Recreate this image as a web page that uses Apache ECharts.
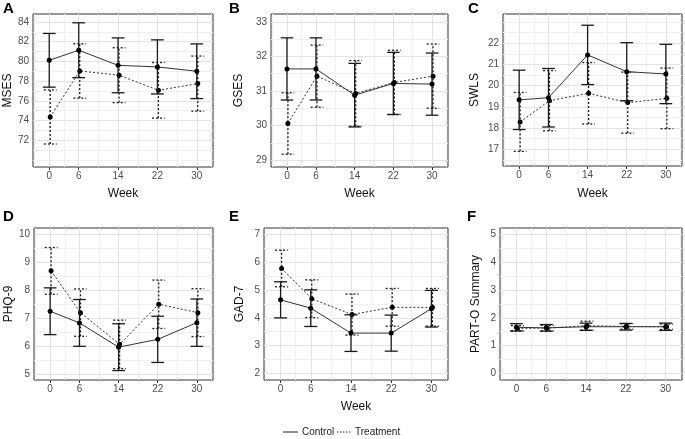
<!DOCTYPE html>
<html><head><meta charset="utf-8">
<script src="https://cdn.jsdelivr.net/npm/echarts@6/dist/echarts.min.js"></script>
<style>html,body{margin:0;padding:0;background:#fff}#c{width:685px;height:439px}</style>
</head><body><div id="c"></div>
<script>
// ---- data ----
const weeks = [0, 6, 14, 22, 30];
const weekTicks = [0, 6, 14, 22, 30];

const msesCtrlMean = [80.11, 81.13, 79.60, 79.44, 79.00];
const msesCtrlErr  = [2.72, 2.78, 2.78, 2.74, 2.77];
const msesTrtMean  = [74.37, 79.03, 78.60, 77.07, 77.75];
const msesTrtErr   = [2.74, 2.75, 2.78, 2.82, 2.79];
const msesTicks    = [72, 74, 76, 78, 80, 82, 84];

const gsesCtrlMean = [31.64, 31.64, 30.88, 31.22, 31.20];
const gsesCtrlErr  = [0.90, 0.90, 0.92, 0.90, 0.90];
const gsesTrtMean  = [30.06, 31.43, 30.93, 31.25, 31.43];
const gsesTrtErr   = [0.89, 0.90, 0.95, 0.93, 0.93];
const gsesTicks    = [29, 30, 31, 32, 33];

const swlsCtrlMean = [19.33, 19.43, 21.45, 20.66, 20.55];
const swlsCtrlErr  = [1.40, 1.38, 1.40, 1.37, 1.40];
const swlsTrtMean  = [18.29, 19.29, 19.64, 19.20, 19.40];
const swlsTrtErr   = [1.39, 1.42, 1.45, 1.44, 1.43];
const swlsTicks    = [17, 18, 19, 20, 21, 22];

const phqCtrlMean = [7.25, 6.83, 5.96, 6.24, 6.84];
const phqCtrlErr  = [0.84, 0.84, 0.84, 0.83, 0.85];
const phqTrtMean  = [8.70, 7.20, 6.06, 7.50, 7.20];
const phqTrtErr   = [0.84, 0.85, 0.87, 0.87, 0.86];
const phqTicks    = [5, 6, 7, 8, 9, 10];

const gadCtrlMean = [4.65, 4.35, 3.45, 3.45, 4.33];
const gadCtrlErr  = [0.65, 0.66, 0.66, 0.65, 0.66];
const gadTrtMean  = [5.78, 4.69, 4.12, 4.38, 4.38];
const gadTrtErr   = [0.66, 0.68, 0.74, 0.68, 0.68];
const gadTicks    = [2, 3, 4, 5, 6, 7];

const partCtrlMean = [1.66, 1.64, 1.68, 1.68, 1.68];
const partCtrlErr  = [0.13, 0.12, 0.13, 0.12, 0.13];
const partTrtMean  = [1.62, 1.63, 1.72, 1.69, 1.68];
const partTrtErr   = [0.10, 0.10, 0.16, 0.10, 0.10];
const partTicks    = [0, 1, 2, 3, 4, 5];

// ---- layout ----
const FONT = "'Liberation Sans', Arial, sans-serif";
const panels = [
  {letter:'A', name:'MSES', yMin:69.3, yMax:84.8, ticks:msesTicks, cm:msesCtrlMean, ce:msesCtrlErr, tm:msesTrtMean, te:msesTrtErr,
   grid:{left:33, top:14, width:180, height:153}, gap:18, lx:3, ly:1, week:true, wgap:21},
  {letter:'B', name:'GSES', yMin:28.8, yMax:33.23, ticks:gsesTicks, cm:gsesCtrlMean, ce:gsesCtrlErr, tm:gsesTrtMean, te:gsesTrtErr,
   grid:{left:271, top:14, width:177, height:153}, gap:26, lx:229, ly:1, week:true, wgap:21},
  {letter:'C', name:'SWLS', yMin:16.21, yMax:23.38, ticks:swlsTicks, cm:swlsCtrlMean, ce:swlsCtrlErr, tm:swlsTrtMean, te:swlsTrtErr,
   grid:{left:503, top:14, width:179, height:152}, gap:22, lx:468, ly:1, week:true, wgap:22},
  {letter:'D', name:'PHQ-9', yMin:4.78, yMax:10.24, ticks:phqTicks, cm:phqCtrlMean, ce:phqCtrlErr, tm:phqTrtMean, te:phqTrtErr,
   grid:{left:34, top:228, width:179, height:152}, gap:17, lx:3, ly:209, week:false, wgap:21},
  {letter:'E', name:'GAD-7', yMin:1.76, yMax:7.24, ticks:gadTicks, cm:gadCtrlMean, ce:gadCtrlErr, tm:gadTrtMean, te:gadTrtErr,
   grid:{left:264, top:228, width:184, height:152}, gap:18, lx:229, ly:209, week:true, wgap:21},
  {letter:'F', name:'PART-O Summary', yMin:-0.24, yMax:5.24, ticks:partTicks, cm:partCtrlMean, ce:partCtrlErr, tm:partTrtMean, te:partTrtErr,
   grid:{left:500, top:228, width:182, height:152}, gap:18, lx:467, ly:209, week:false, wgap:21}
];
const X_MIN = -3.3, X_MAX = 33.3, CAP = 1.3, DODGE = 0.2;

function minorLines(ticks, lo, hi) {
  const d = ticks[1] - ticks[0];
  const b = [ticks[0] - d, ...ticks, ticks[ticks.length - 1] + d];
  const out = [];
  for (let i = 0; i < b.length - 1; i++) out.push((b[i] + b[i + 1]) / 2);
  out.push(b[0], b[b.length - 1]);
  return out.filter(v => v > lo && v < hi);
}

const grids = [], xAxes = [], yAxes = [], series = [], titles = [];
panels.forEach((p, i) => {
  grids.push(Object.assign({show:true, borderColor:'#333', borderWidth:1, backgroundColor:'#fff', containLabel:false}, p.grid));
  xAxes.push({
    type:'value', gridIndex:i, min:X_MIN, max:X_MAX,
    splitLine:{show:false}, axisLine:{show:false},
    axisTick:{show:true, customValues:weekTicks, length:3, lineStyle:{color:'#333'}},
    axisLabel:{customValues:weekTicks, fontSize:10, color:'#4d4d4d', margin:4, fontFamily:FONT},
    name: (p.week ? 'Week' : ''), nameLocation:'middle', nameGap:p.wgap,
    nameTextStyle:{fontSize:12, color:'#111', fontFamily:FONT}
  });
  yAxes.push({
    type:'value', gridIndex:i, min:p.yMin, max:p.yMax,
    splitLine:{show:false}, axisLine:{show:false},
    axisTick:{show:true, customValues:p.ticks, length:3, lineStyle:{color:'#333'}},
    axisLabel:{customValues:p.ticks, fontSize:10, color:'#4d4d4d', margin:4, fontFamily:FONT},
    name:p.name, nameLocation:'middle', nameGap:p.gap, nameRotate:90,
    nameTextStyle:{fontSize:12, color:'#111', fontFamily:FONT}
  });
  titles.push({text:p.letter, left:p.lx, top:p.ly, padding:0,
    textStyle:{fontSize:15, fontWeight:'bold', color:'#000', fontFamily:FONT}});

  // grid lines (ggplot-like major/minor)
  const gl = [];
  minorLines(p.ticks, p.yMin, p.yMax).forEach(v => gl.push({yAxis:v, lineStyle:{color:'#f0f0f0', width:1, type:'solid'}}));
  const xm = [-3, 3, 10, 18, 26, 33].filter(v => v > X_MIN && v < X_MAX);
  xm.forEach(v => gl.push({xAxis:v, lineStyle:{color:'#f0f0f0', width:1, type:'solid'}}));
  p.ticks.forEach(v => gl.push({yAxis:v, lineStyle:{color:'#e3e3e3', width:1, type:'solid'}}));
  weekTicks.forEach(v => gl.push({xAxis:v, lineStyle:{color:'#e3e3e3', width:1, type:'solid'}}));
  series.push({type:'line', xAxisIndex:i, yAxisIndex:i, data:[], z:1, silent:true,
    markLine:{silent:true, z:1, symbol:['none','none'], label:{show:false}, animation:false, data:gl}});

  const groups = [
    {mean:p.cm, err:p.ce, dx:0, dash:null, z:6},
    {mean:p.tm, err:p.te, dx:DODGE, dash:[2, 2], z:4}
  ];
  groups.forEach(g => {
    series.push({
      type:'custom', xAxisIndex:i, yAxisIndex:i, z:g.z, silent:true,
      data: weeks.map((w, j) => [w + g.dx, g.mean[j] - g.err[j], g.mean[j] + g.err[j]]),
      encode:{x:0, y:[1, 2]},
      renderItem: (params, api) => {
        const x = api.value(0), lo = api.value(1), hi = api.value(2);
        const a = api.coord([x, lo]), b = api.coord([x, hi]);
        const l1 = api.coord([x - CAP, hi]), r1 = api.coord([x + CAP, hi]);
        const l2 = api.coord([x - CAP, lo]), r2 = api.coord([x + CAP, lo]);
        const style = {stroke:'#1a1a1a', lineWidth:1.3, lineDash:g.dash, fill:null};
        return {type:'group', children:[
          {type:'line', shape:{x1:a[0], y1:a[1], x2:b[0], y2:b[1]}, style},
          {type:'line', shape:{x1:l1[0], y1:l1[1], x2:r1[0], y2:r1[1]}, style},
          {type:'line', shape:{x1:l2[0], y1:l2[1], x2:r2[0], y2:r2[1]}, style}
        ]};
      }
    });
    series.push({
      type:'line', xAxisIndex:i, yAxisIndex:i, z:g.z + 1, silent:true,
      data: weeks.map((w, j) => [w + g.dx, g.mean[j]]),
      symbol:'circle', symbolSize:5, showSymbol:true,
      itemStyle:{color:'#000'},
      lineStyle:{color:'#333', width:1, type: g.dash ? g.dash : 'solid'}
    });
  });
});

const chart = echarts.init(document.getElementById('c'), null, {renderer:'canvas'});
chart.setOption({
  animation:false,
  backgroundColor:'#fff',
  title: titles,
  grid: grids, xAxis: xAxes, yAxis: yAxes, series: series,
  graphic: [
    {type:'line', shape:{x1:283, y1:432, x2:298, y2:432}, style:{stroke:'#222', lineWidth:1}},
    {type:'text', x:302, y:432, style:{text:'Control', fontSize:10, fill:'#222', fontFamily:FONT, verticalAlign:'middle'}},
    {type:'line', shape:{x1:337, y1:432, x2:351, y2:432}, style:{stroke:'#222', lineWidth:1, lineDash:[1.5, 1.5]}},
    {type:'text', x:355, y:432, style:{text:'Treatment', fontSize:10, fill:'#222', fontFamily:FONT, verticalAlign:'middle'}}
  ]
});
</script></body></html>
